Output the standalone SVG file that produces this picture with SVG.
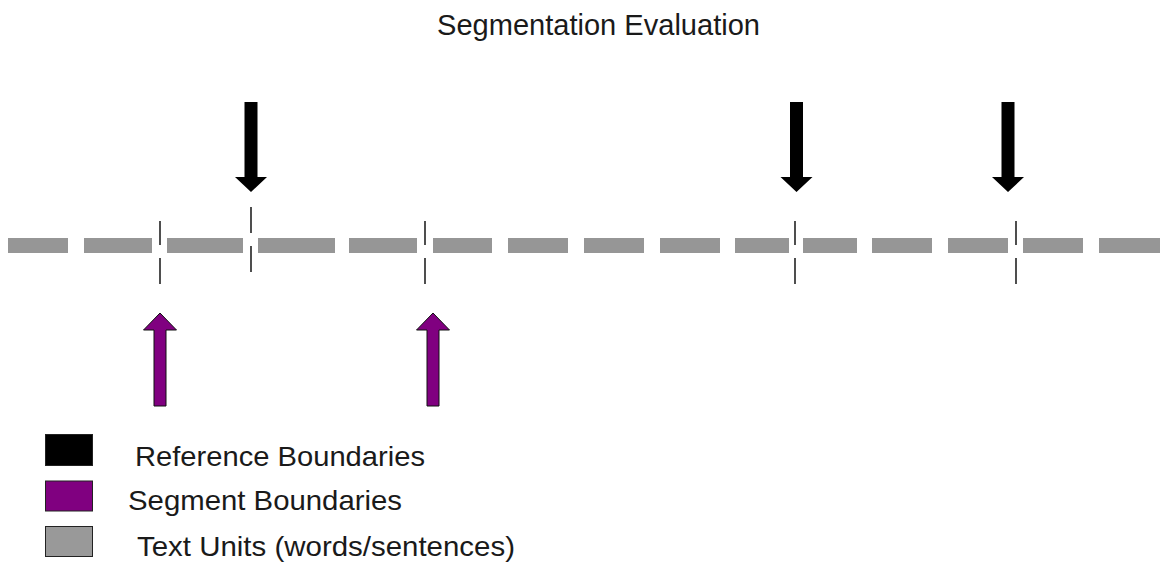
<svg xmlns="http://www.w3.org/2000/svg" width="1166" height="568" viewBox="0 0 1166 568">
<style>
text{font-family:"Liberation Sans",Arial,sans-serif;fill:#1a1a1a}
.unit{fill:#969696}
.tick{stroke:#222;stroke-width:1.6}
.ref{fill:#000}
.seg{fill:#800080;stroke:#111;stroke-width:1}
</style>
<rect width="1166" height="568" fill="#fff"/>
<g id="title"><text x="437" y="35" font-size="29" textLength="323" lengthAdjust="spacingAndGlyphs">Segmentation Evaluation</text></g>
<g id="text-units">
<rect class="unit" x="8" y="238" width="60" height="15"/>
<rect class="unit" x="84" y="238" width="68" height="15"/>
<rect class="unit" x="167" y="238" width="76" height="15"/>
<rect class="unit" x="258" y="238" width="77" height="15"/>
<rect class="unit" x="349" y="238" width="68" height="15"/>
<rect class="unit" x="433" y="238" width="59" height="15"/>
<rect class="unit" x="508" y="238" width="60" height="15"/>
<rect class="unit" x="584" y="238" width="60" height="15"/>
<rect class="unit" x="660" y="238" width="60" height="15"/>
<rect class="unit" x="735" y="238" width="54" height="15"/>
<rect class="unit" x="803" y="238" width="54" height="15"/>
<rect class="unit" x="872" y="238" width="60" height="15"/>
<rect class="unit" x="948" y="238" width="60" height="15"/>
<rect class="unit" x="1023" y="238" width="60" height="15"/>
<rect class="unit" x="1099" y="238" width="61" height="15"/>
</g>
<g id="connectors">
<line class="tick" x1="160" y1="221" x2="160" y2="245"/><line class="tick" x1="160" y1="258" x2="160" y2="284"/>
<line class="tick" x1="251" y1="207" x2="251" y2="233"/><line class="tick" x1="251" y1="246" x2="251" y2="272"/>
<line class="tick" x1="425" y1="221" x2="425" y2="245"/><line class="tick" x1="425" y1="258" x2="425" y2="284"/>
<line class="tick" x1="795" y1="221" x2="795" y2="245"/><line class="tick" x1="795" y1="258" x2="795" y2="284"/>
<line class="tick" x1="1016" y1="221" x2="1016" y2="245"/><line class="tick" x1="1016" y1="258" x2="1016" y2="284"/>
</g>
<g id="ref-arrow-1"><polygon class="ref" points="244.5,102 257.5,102 257.5,177 267,177 251,192 235,177 244.5,177"/></g>
<g id="ref-arrow-2"><polygon class="ref" points="790,102 803,102 803,177 812.5,177 796.5,192 780.5,177 790,177"/></g>
<g id="ref-arrow-3"><polygon class="ref" points="1001.5,102 1014.5,102 1014.5,177 1024,177 1008,192 992,177 1001.5,177"/></g>
<g id="seg-arrow-1"><polygon class="seg" points="154,406 166,406 166,330 176.5,330 160,313 143.5,330 154,330"/></g>
<g id="seg-arrow-2"><polygon class="seg" points="427,406 439,406 439,330 449.5,330 433,313 416.5,330 427,330"/></g>
<g id="legend-reference"><rect x="45.5" y="434.5" width="47" height="31" fill="#000" stroke="#222"/><text x="135" y="466" font-size="28.5" textLength="290" lengthAdjust="spacingAndGlyphs">Reference Boundaries</text></g>
<g id="legend-segment"><rect x="45.5" y="481" width="47" height="30" fill="#800080" stroke="#222"/><text x="128" y="510" font-size="28.5" textLength="274" lengthAdjust="spacingAndGlyphs">Segment Boundaries</text></g>
<g id="legend-units"><rect x="45.5" y="526.5" width="47" height="30" fill="#999" stroke="#222"/><text x="137" y="556" font-size="28.5" textLength="378" lengthAdjust="spacingAndGlyphs">Text Units (words/sentences)</text></g>
</svg>
